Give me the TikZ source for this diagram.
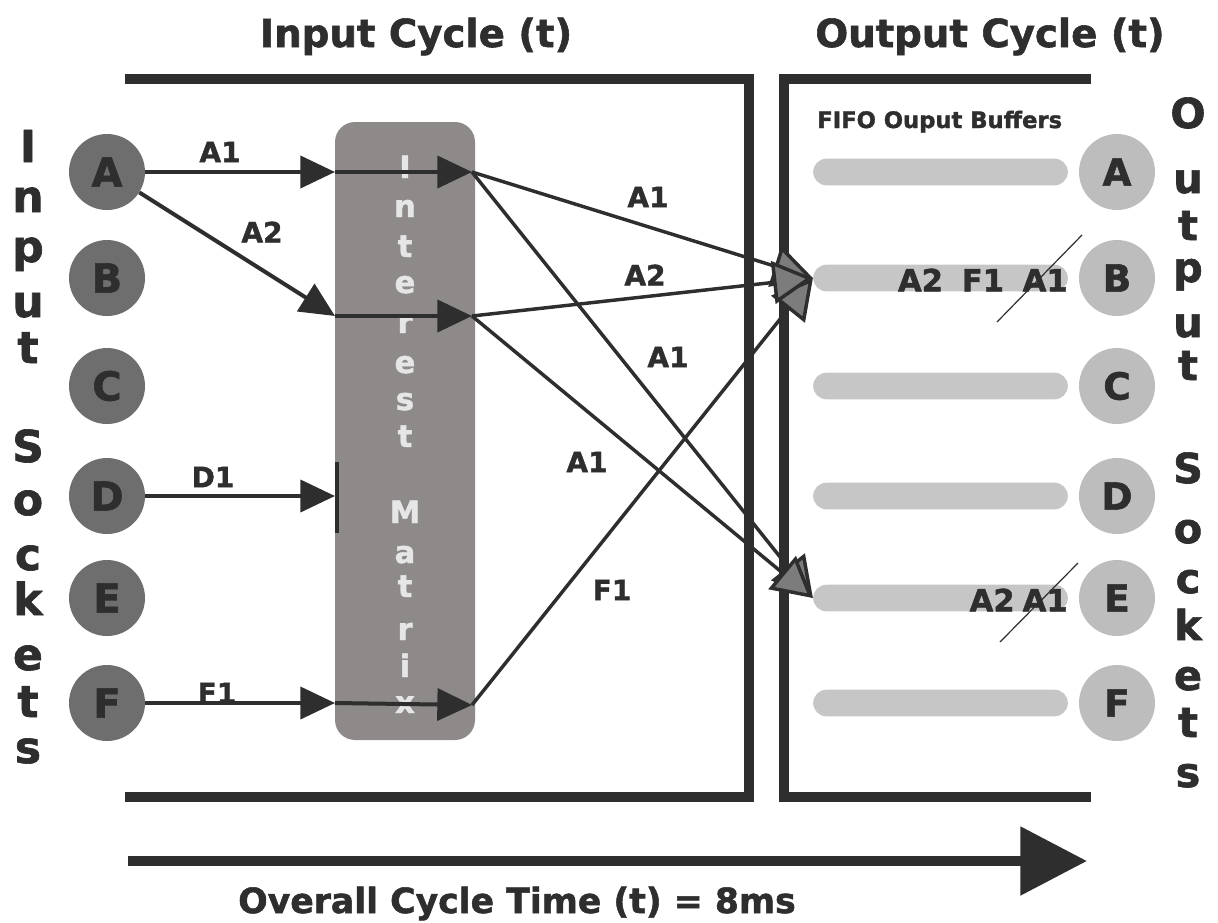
\documentclass[tikz,border=0pt]{standalone}
\usepackage{fontspec}
\setmainfont{DejaVu Sans}[BoldFeatures={FakeBold=1.5}]
\usetikzlibrary{arrows.meta}

\definecolor{ink}{HTML}{2E2E2E}
\definecolor{sockdark}{HTML}{6E6E6E}
\definecolor{socklight}{HTML}{BDBDBD}
\definecolor{matrixgray}{HTML}{8E8A8A}
\definecolor{matrixtext}{HTML}{E6E6E6}
\definecolor{buffergray}{HTML}{C6C6C6}
\definecolor{headgray}{HTML}{7C7C7C}

\begin{document}
\begin{tikzpicture}[x=0.75pt, y=-0.75pt,
  title/.style={text=ink, font=\fontsize{29}{32}\selectfont\bfseries, inner sep=0pt},
  sideletter/.style={text=ink, font=\fontsize{33}{36}\selectfont\bfseries, inner sep=0pt},
  outletter/.style={text=ink, font=\fontsize{31}{34}\selectfont\bfseries, inner sep=0pt},
  matrixletter/.style={text=matrixtext, font=\fontsize{23}{25}\selectfont\bfseries, inner sep=0pt},
  insock/.style={circle, fill=sockdark, minimum size=57pt, inner sep=0pt, text=ink,
    font=\fontsize{30}{32}\selectfont\bfseries},
  outsock/.style={circle, fill=socklight, minimum size=57pt, inner sep=0pt, text=ink,
    font=\fontsize{28}{30}\selectfont\bfseries},
  buffer/.style={rectangle, rounded corners=10pt, fill=buffergray, minimum width=191pt,
    minimum height=20pt, inner sep=0pt},
  matrixbox/.style={rectangle, rounded corners=15pt, fill=matrixgray, minimum width=105pt,
    minimum height=463.5pt, inner sep=0pt},
  flowlabel/.style={text=ink, font=\fontsize{21}{23}\selectfont\bfseries, inner sep=0pt},
  buftext/.style={text=ink, font=\fontsize{23}{25}\selectfont\bfseries, inner sep=0pt},
  flow/.style={draw=ink, line width=3pt, -{Triangle[length=26pt,width=24pt]}},
  outflow/.style={draw=ink, line width=2.6pt, -{Triangle[length=30pt,width=32pt,fill=headgray]}},
  framerule/.style={draw=ink, line width=7.5pt},
  strike/.style={draw=ink, line width=0.9pt}
]
\useasboundingbox (0,0) rectangle (1218,922);

% cycle frames
\draw[framerule] (125,79) -- (749,79) -- (749,797) -- (125,797);
\draw[framerule] (1091,79) -- (784,79) -- (784,797) -- (1091,797);

% titles
\node[title, anchor=base] (inTitle) at (416,47) {Input Cycle (t)};
\node[title, anchor=base] (outTitle) at (990,47) {Output Cycle (t)};

% interest matrix
\node[matrixbox] (matrix) at (405,431) {};
\foreach \ch/\yb [count=\i] in {I/178,n/217,t/257,e/293,r/333,e/373,s/410,t/447,
                               M/523,a/563,t/597,r/640,i/677,x/713}
  \node[matrixletter, anchor=base] (ml\i) at (405,\yb) {\ch};

% side captions
\foreach \ch/\yb [count=\i] in {I/162,n/212,p/262,u/317,t/363,S/462,o/515,c/570,k/615,e/670,t/717,s/763}
  \node[sideletter, anchor=base] (sl\i) at (28,\yb) {\ch};
\foreach \ch/\yb [count=\i] in {O/128,u/193,t/240,p/282,u/337,t/380,S/483,o/543,c/593,k/640,e/690,t/737,s/787}
  \node[outletter, anchor=base] (sr\i) at (1188,\yb) {\ch};

% sockets and FIFO buffers
\node[text=ink, font=\fontsize{17}{19}\selectfont\bfseries, inner sep=0pt, anchor=base west]
  (fifo) at (817,128) {FIFO Ouput Buffers};
\foreach \L/\y in {A/172,B/278,C/386,D/496,E/598,F/703} {
  \node[insock] (in\L) at (107,\y) {\L};
  \node[buffer] (buf\L) at (940.5,\y) {};
  \node[outsock] (out\L) at (1117,\y) {\L};
}
\node[buftext, anchor=east] (qB) at (1068,280) {A2\hspace{14pt}F1\hspace{14pt}A1};
\node[buftext, anchor=east] (qE) at (1068,600) {A2\hspace{6pt}A1};
\draw[strike] (997,322) -- (1082,235);
\draw[strike] (1000,642) -- (1078,563);

% matrix ports
\coordinate (m1in) at (335,172);
\coordinate (m2in) at (335,316);
\coordinate (m4in) at (335,496);
\coordinate (m6in) at (335,703);
\coordinate (m1out) at (472,172);
\coordinate (m2out) at (472,316);
\coordinate (m6out) at (472,705);

% input flows
\draw[flow] (inA) -- (m1in);
\draw[flow] (inA) -- (m2in);
\draw[flow] (inD) -- (m4in);
\draw[flow] (inF) -- (m6in);
\draw[ink, line width=3pt] (337,462) -- (337,533);
\draw[flow] (m1in) -- (m1out);
\draw[flow] (m2in) -- (m2out);
\draw[flow] (m6in) -- (m6out);

% output flows
\draw[outflow] (m1out) -- (bufE.west);
\draw[outflow] (m2out) -- (bufE.west);
\draw[outflow] (m6out) -- (bufB.west);
\draw[outflow] (m1out) -- (bufB.west);
\draw[outflow] (m2out) -- (bufB.west);

% flow labels
\node[flowlabel] (lA1) at (220,152) {A1};
\node[flowlabel] (lA2) at (262,232) {A2};
\node[flowlabel] (lD1) at (213,477) {D1};
\node[flowlabel] (lF1) at (217,693) {F1};
\node[flowlabel] (rA1a) at (648,197) {A1};
\node[flowlabel] (rA2) at (645,275) {A2};
\node[flowlabel] (rA1b) at (668,357) {A1};
\node[flowlabel] (rA1c) at (587,462) {A1};
\node[flowlabel] (rF1) at (612,590) {F1};

% overall cycle time
\coordinate (tstart) at (128,861);
\coordinate (tend) at (1087,861);
\draw[draw=ink, line width=7.5pt, -{Triangle[length=50pt,width=50pt]}] (tstart) -- (tend);
\node[title, font=\fontsize{26}{28}\selectfont\bfseries, anchor=base] (total) at (517,913)
  {Overall Cycle Time (t) = 8ms};
\end{tikzpicture}
\end{document}
